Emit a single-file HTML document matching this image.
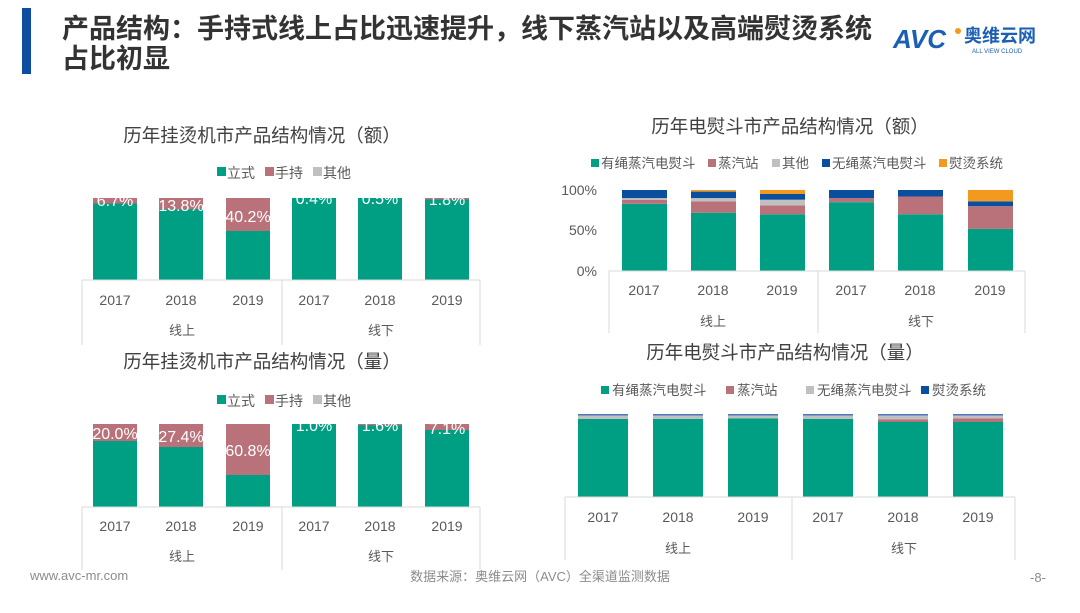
<!DOCTYPE html>
<html><head><meta charset="utf-8"><style>
body{margin:0;width:1080px;height:608px;background:#fff;overflow:hidden;font-family:"Liberation Sans","Noto Sans CJK SC",sans-serif}
</style></head><body>
<svg width="1080" height="608" xmlns="http://www.w3.org/2000/svg" font-family="Liberation Sans, Noto Sans CJK SC, sans-serif">
<rect x="22" y="8" width="9" height="66" fill="#0d4ea0"/>
<g font-size="27" font-weight="bold" fill="#333">
<text x="62" y="38">产品结构：手持式线上占比迅速提升，线下蒸汽站以及高端熨烫系统</text>
<text x="62" y="68">占比初显</text></g>
<text x="893" y="48" font-size="26" font-weight="bold" fill="#1a5fb4" font-style="italic">AVC</text>
<circle cx="958" cy="31" r="3" fill="#f39a1e"/>
<text x="964" y="42" font-size="18" font-weight="bold" fill="#1a5fb4">奥维云网</text>
<text x="972" y="53" font-size="6" fill="#1a5fb4">ALL VIEW CLOUD</text>

<defs>
<clipPath id="c1"><rect x="80" y="198" width="410" height="90"/></clipPath>
<clipPath id="c2"><rect x="80" y="424" width="410" height="90"/></clipPath>
</defs>
<g font-size="18.5" fill="#404040" text-anchor="middle">
<text x="262" y="142">历年挂烫机市产品结构情况（额）</text>
<text x="262" y="368">历年挂烫机市产品结构情况（量）</text>
<text x="790" y="133">历年电熨斗市产品结构情况（额）</text>
<text x="785" y="359">历年电熨斗市产品结构情况（量）</text>
</g>

<!-- chart 1 -->
<g font-size="14" fill="#595959">
<rect x="217" y="167" width="9" height="9" fill="#009f83"/><text x="227" y="178">立式</text>
<rect x="265" y="167" width="9" height="9" fill="#b9727a"/><text x="275" y="178">手持</text>
<rect x="313" y="167" width="9" height="9" fill="#c0c0c0"/><text x="323" y="178">其他</text>
</g>
<g clip-path="url(#c1)" font-size="16" fill="#fff" text-anchor="middle">
<rect x="93" y="198" width="44" height="82" fill="#009f83"/><rect x="93" y="198" width="44" height="5.5" fill="#b9727a"/><text x="115" y="206">6.7%</text>
<rect x="159" y="198" width="44" height="82" fill="#009f83"/><rect x="159" y="198" width="44" height="11.3" fill="#b9727a"/><text x="181" y="211">13.8%</text>
<rect x="226" y="198" width="44" height="82" fill="#009f83"/><rect x="226" y="198" width="44" height="33" fill="#b9727a"/><text x="248" y="222">40.2%</text>
<rect x="292" y="198" width="44" height="82" fill="#009f83"/><text x="314" y="204">0.4%</text>
<rect x="358" y="198" width="44" height="82" fill="#009f83"/><text x="380" y="204">0.5%</text>
<rect x="425" y="198" width="44" height="82" fill="#009f83"/><rect x="425" y="198" width="44" height="1.5" fill="#b9727a"/><text x="447" y="205">1.8%</text>
</g>
<g stroke="#d9d9d9" fill="none"><path d="M82 280H480M82 280V345M282 280V345M480 280V345"/></g>
<g font-size="14" fill="#595959" text-anchor="middle">
<text x="115" y="305">2017</text><text x="181" y="305">2018</text><text x="248" y="305">2019</text>
<text x="314" y="305">2017</text><text x="380" y="305">2018</text><text x="447" y="305">2019</text>
<text x="182" y="335" font-size="13">线上</text><text x="381" y="335" font-size="13">线下</text></g>

<!-- chart 2 -->
<g font-size="14" fill="#595959">
<rect x="217" y="395" width="9" height="9" fill="#009f83"/><text x="227" y="406">立式</text>
<rect x="265" y="395" width="9" height="9" fill="#b9727a"/><text x="275" y="406">手持</text>
<rect x="313" y="395" width="9" height="9" fill="#c0c0c0"/><text x="323" y="406">其他</text>
</g>
<g clip-path="url(#c2)" font-size="16" fill="#fff" text-anchor="middle">
<rect x="93" y="424" width="44" height="83" fill="#009f83"/><rect x="93" y="424" width="44" height="17" fill="#b9727a"/><text x="115" y="439">20.0%</text>
<rect x="159" y="424" width="44" height="83" fill="#009f83"/><rect x="159" y="424" width="44" height="23" fill="#b9727a"/><text x="181" y="442">27.4%</text>
<rect x="226" y="424" width="44" height="83" fill="#009f83"/><rect x="226" y="424" width="44" height="51" fill="#b9727a"/><text x="248" y="456">60.8%</text>
<rect x="292" y="424" width="44" height="83" fill="#009f83"/><text x="314" y="431">1.0%</text>
<rect x="358" y="424" width="44" height="83" fill="#009f83"/><rect x="358" y="424" width="44" height="1.3" fill="#b9727a"/><text x="380" y="431">1.6%</text>
<rect x="425" y="424" width="44" height="83" fill="#009f83"/><rect x="425" y="424" width="44" height="6" fill="#b9727a"/><text x="447" y="434">7.1%</text>
</g>
<g stroke="#d9d9d9" fill="none"><path d="M82 507H480M82 507V570M282 507V570M480 507V570"/></g>
<g font-size="14" fill="#595959" text-anchor="middle">
<text x="115" y="531">2017</text><text x="181" y="531">2018</text><text x="248" y="531">2019</text>
<text x="314" y="531">2017</text><text x="380" y="531">2018</text><text x="447" y="531">2019</text>
<text x="182" y="561" font-size="13">线上</text><text x="381" y="561" font-size="13">线下</text></g>

<!-- chart 3 -->
<g font-size="13.5" fill="#595959">
<rect x="591" y="159" width="8" height="8" fill="#009f83"/><text x="601" y="168">有绳蒸汽电熨斗</text>
<rect x="708" y="159" width="8" height="8" fill="#b9727a"/><text x="718" y="168">蒸汽站</text>
<rect x="772" y="159" width="8" height="8" fill="#c0c0c0"/><text x="782" y="168">其他</text>
<rect x="822" y="159" width="8" height="8" fill="#0a4f9e"/><text x="832" y="168">无绳蒸汽电熨斗</text>
<rect x="939" y="159" width="8" height="8" fill="#f39a1e"/><text x="949" y="168">熨烫系统</text>
</g>
<g font-size="14" fill="#595959" text-anchor="end">
<text x="597" y="195">100%</text><text x="597" y="235">50%</text><text x="597" y="276">0%</text></g>
<g>
<rect x="622" y="203.8" width="45" height="67.2" fill="#009f83"/><rect x="622" y="199.7" width="45" height="4.1" fill="#b9727a"/><rect x="622" y="198.1" width="45" height="1.6" fill="#c0c0c0"/><rect x="622" y="190" width="45" height="8.1" fill="#0a4f9e"/>
<rect x="691" y="212.7" width="45" height="58.3" fill="#009f83"/><rect x="691" y="201.3" width="45" height="11.4" fill="#b9727a"/><rect x="691" y="198.1" width="45" height="3.2" fill="#c0c0c0"/><rect x="691" y="191.6" width="45" height="6.5" fill="#0a4f9e"/><rect x="691" y="190" width="45" height="1.6" fill="#f39a1e"/>
<rect x="760" y="214.3" width="45" height="56.7" fill="#009f83"/><rect x="760" y="205.4" width="45" height="8.9" fill="#b9727a"/><rect x="760" y="199.7" width="45" height="5.7" fill="#c0c0c0"/><rect x="760" y="194" width="45" height="5.7" fill="#0a4f9e"/><rect x="760" y="190" width="45" height="4" fill="#f39a1e"/>
<rect x="829" y="202.2" width="45" height="68.8" fill="#009f83"/><rect x="829" y="198.1" width="45" height="4.1" fill="#b9727a"/><rect x="829" y="190" width="45" height="8.1" fill="#0a4f9e"/>
<rect x="898" y="214.3" width="45" height="56.7" fill="#009f83"/><rect x="898" y="196.5" width="45" height="17.8" fill="#b9727a"/><rect x="898" y="190" width="45" height="6.5" fill="#0a4f9e"/>
<rect x="968" y="228.9" width="45" height="42.1" fill="#009f83"/><rect x="968" y="206.2" width="45" height="22.7" fill="#b9727a"/><rect x="968" y="201.3" width="45" height="4.9" fill="#0a4f9e"/><rect x="968" y="190" width="45" height="11.3" fill="#f39a1e"/>
</g>
<g stroke="#d9d9d9" fill="none"><path d="M609 271H1025M609 271V333M818 271V333M1025 271V333"/></g>
<g font-size="14" fill="#595959" text-anchor="middle">
<text x="644" y="295">2017</text><text x="713" y="295">2018</text><text x="782" y="295">2019</text>
<text x="851" y="295">2017</text><text x="920" y="295">2018</text><text x="990" y="295">2019</text>
<text x="713" y="326" font-size="13">线上</text><text x="921" y="326" font-size="13">线下</text></g>

<!-- chart 4 -->
<g font-size="13.5" fill="#595959">
<rect x="601" y="386" width="8" height="8" fill="#009f83"/><text x="612" y="395">有绳蒸汽电熨斗</text>
<rect x="726" y="386" width="8" height="8" fill="#b9727a"/><text x="737" y="395">蒸汽站</text>
<rect x="806" y="386" width="8" height="8" fill="#c0c0c0"/><text x="817" y="395">无绳蒸汽电熨斗</text>
<rect x="921" y="386" width="8" height="8" fill="#0a4f9e"/><text x="932" y="395">熨烫系统</text>
</g>
<g>
<rect x="578" y="414" width="50" height="83" fill="#009f83"/><rect x="578" y="415.5" width="50" height="3.5" fill="#c0c0c0"/><rect x="578" y="414" width="50" height="1.5" fill="#4a78b8"/>
<rect x="653" y="414" width="50" height="83" fill="#009f83"/><rect x="653" y="415.5" width="50" height="3.5" fill="#c0c0c0"/><rect x="653" y="414" width="50" height="1.5" fill="#4a78b8"/>
<rect x="728" y="414" width="50" height="83" fill="#009f83"/><rect x="728" y="415.5" width="50" height="3" fill="#c0c0c0"/><rect x="728" y="414" width="50" height="1.5" fill="#4a78b8"/>
<rect x="803" y="414" width="50" height="83" fill="#009f83"/><rect x="803" y="415.5" width="50" height="3.5" fill="#c0c0c0"/><rect x="803" y="414" width="50" height="1.5" fill="#4a78b8"/>
<rect x="878" y="414" width="50" height="83" fill="#009f83"/><rect x="878" y="419.5" width="50" height="2.5" fill="#b9727a"/><rect x="878" y="415.5" width="50" height="4" fill="#c0c0c0"/><rect x="878" y="414" width="50" height="1.5" fill="#4a78b8"/>
<rect x="953" y="414" width="50" height="83" fill="#009f83"/><rect x="953" y="418.5" width="50" height="3.5" fill="#b9727a"/><rect x="953" y="415.5" width="50" height="3" fill="#c0c0c0"/><rect x="953" y="414" width="50" height="1.5" fill="#4a78b8"/>
</g>
<g stroke="#d9d9d9" fill="none"><path d="M565 497H1015M565 497V560M792 497V560M1015 497V560"/></g>
<g font-size="14" fill="#595959" text-anchor="middle">
<text x="603" y="522">2017</text><text x="678" y="522">2018</text><text x="753" y="522">2019</text>
<text x="828" y="522">2017</text><text x="903" y="522">2018</text><text x="978" y="522">2019</text>
<text x="678" y="553" font-size="13">线上</text><text x="904" y="553" font-size="13">线下</text></g>

<g font-size="13" fill="#8c8c8c">
<text x="30" y="580">www.avc-mr.com</text>
<text x="540" y="581" text-anchor="middle">数据来源：奥维云网（AVC）全渠道监测数据</text>
<text x="1030" y="582">-8-</text></g>
</svg>
</body></html>
